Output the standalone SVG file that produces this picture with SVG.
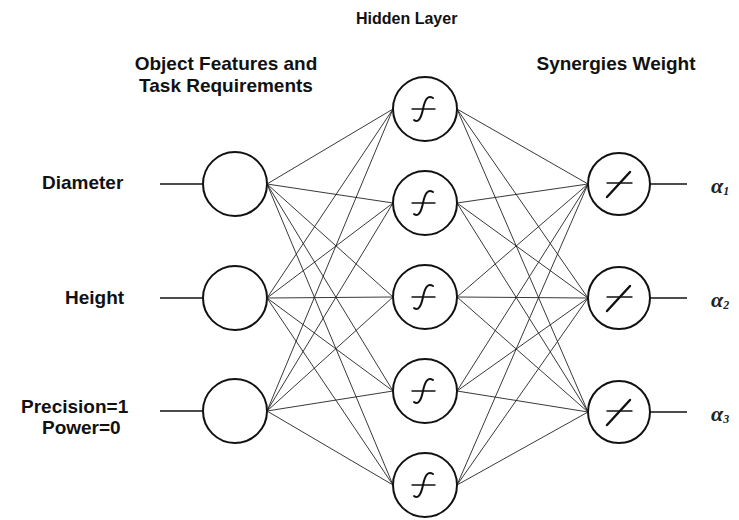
<svg xmlns="http://www.w3.org/2000/svg" xmlns:xlink="http://www.w3.org/1999/xlink" width="739" height="520" viewBox="0 0 739 520">
<style>
.bg{fill:#ffffff}
.node{fill:#ffffff;stroke:#111;stroke-width:2}
.conn line{stroke:#222;stroke-width:0.9}
.io{stroke:#111;stroke-width:1.6}
.lbl{font-family:"Liberation Sans",Arial,sans-serif;font-weight:bold;font-size:19px;fill:#111}
.ttl{font-family:"Liberation Sans",Arial,sans-serif;font-weight:bold;fill:#111}
.alpha{font-family:"Liberation Serif","DejaVu Serif",serif;font-style:italic;font-weight:bold;font-size:22px;fill:#222}
.sym{fill:none;stroke:#111;stroke-linecap:round}
</style>
<defs>
<g id="sig">
<line class="sym" x1="-12" y1="0" x2="11" y2="0" stroke-width="1.4"/>
<path class="sym" d="M-10 11 C-6 14 -3 10 -1 0 C1 -10 4 -14 9 -11" stroke-width="2"/>
</g>
<g id="lin">
<line class="sym" x1="-12" y1="-1" x2="13" y2="-1" stroke-width="1.4"/>
<line class="sym" x1="-12" y1="13" x2="11" y2="-12" stroke-width="2.4"/>
</g>
</defs>
<rect class="bg" x="0" y="0" width="739" height="520"/>

<g id="titles">
<text class="ttl" x="356" y="24" font-size="16">Hidden Layer</text>
<text class="ttl" x="226" y="70" font-size="19" text-anchor="middle">Object Features and</text>
<text class="ttl" x="226" y="92" font-size="19" text-anchor="middle">Task Requirements</text>
<text class="ttl" x="616" y="70" font-size="19" text-anchor="middle">Synergies Weight</text>
</g>

<g id="connectors" class="conn">
<line x1="267" y1="184" x2="393" y2="109"/>
<line x1="267" y1="184" x2="393" y2="203"/>
<line x1="267" y1="184" x2="393" y2="297"/>
<line x1="267" y1="184" x2="393" y2="391"/>
<line x1="267" y1="184" x2="393" y2="485"/>
<line x1="267" y1="298" x2="393" y2="109"/>
<line x1="267" y1="298" x2="393" y2="203"/>
<line x1="267" y1="298" x2="393" y2="297"/>
<line x1="267" y1="298" x2="393" y2="391"/>
<line x1="267" y1="298" x2="393" y2="485"/>
<line x1="267" y1="411" x2="393" y2="109"/>
<line x1="267" y1="411" x2="393" y2="203"/>
<line x1="267" y1="411" x2="393" y2="297"/>
<line x1="267" y1="411" x2="393" y2="391"/>
<line x1="267" y1="411" x2="393" y2="485"/>
<line x1="457" y1="109" x2="588" y2="184"/>
<line x1="457" y1="109" x2="588" y2="298"/>
<line x1="457" y1="109" x2="588" y2="412"/>
<line x1="457" y1="203" x2="588" y2="184"/>
<line x1="457" y1="203" x2="588" y2="298"/>
<line x1="457" y1="203" x2="588" y2="412"/>
<line x1="457" y1="297" x2="588" y2="184"/>
<line x1="457" y1="297" x2="588" y2="298"/>
<line x1="457" y1="297" x2="588" y2="412"/>
<line x1="457" y1="391" x2="588" y2="184"/>
<line x1="457" y1="391" x2="588" y2="298"/>
<line x1="457" y1="391" x2="588" y2="412"/>
<line x1="457" y1="485" x2="588" y2="184"/>
<line x1="457" y1="485" x2="588" y2="298"/>
<line x1="457" y1="485" x2="588" y2="412"/>
</g>

<g id="in1">
<text class="lbl" x="42" y="189">Diameter</text>
<line class="io" x1="160" y1="184" x2="203" y2="184"/>
<circle class="node" cx="235" cy="184" r="32"/>
</g>
<g id="in2">
<text class="lbl" x="65" y="304">Height</text>
<line class="io" x1="160" y1="298" x2="203" y2="298"/>
<circle class="node" cx="235" cy="298" r="32"/>
</g>
<g id="in3">
<text class="lbl" x="21" y="413">Precision=1</text>
<text class="lbl" x="42" y="434">Power=0</text>
<line class="io" x1="160" y1="411" x2="203" y2="411"/>
<circle class="node" cx="235" cy="411" r="32"/>
</g>

<g id="h1"><circle class="node" cx="425" cy="109" r="32"/><use xlink:href="#sig" x="424" y="109"/></g>
<g id="h2"><circle class="node" cx="425" cy="203" r="32"/><use xlink:href="#sig" x="424" y="203"/></g>
<g id="h3"><circle class="node" cx="425" cy="297" r="32"/><use xlink:href="#sig" x="424" y="297"/></g>
<g id="h4"><circle class="node" cx="425" cy="391" r="32"/><use xlink:href="#sig" x="424" y="391"/></g>
<g id="h5"><circle class="node" cx="425" cy="485" r="32"/><use xlink:href="#sig" x="424" y="485"/></g>

<g id="out1">
<circle class="node" cx="619" cy="184" r="31"/><use xlink:href="#lin" x="619" y="184"/>
<line class="io" x1="650" y1="184" x2="687" y2="184"/>
<text class="alpha" x="711" y="193">α<tspan font-size="12" dy="2">1</tspan></text>
</g>
<g id="out2">
<circle class="node" cx="619" cy="298" r="31"/><use xlink:href="#lin" x="619" y="298"/>
<line class="io" x1="650" y1="298" x2="687" y2="298"/>
<text class="alpha" x="711" y="307">α<tspan font-size="12" dy="2">2</tspan></text>
</g>
<g id="out3">
<circle class="node" cx="619" cy="412" r="31"/><use xlink:href="#lin" x="619" y="412"/>
<line class="io" x1="650" y1="412" x2="687" y2="412"/>
<text class="alpha" x="711" y="421">α<tspan font-size="12" dy="2">3</tspan></text>
</g>
</svg>
